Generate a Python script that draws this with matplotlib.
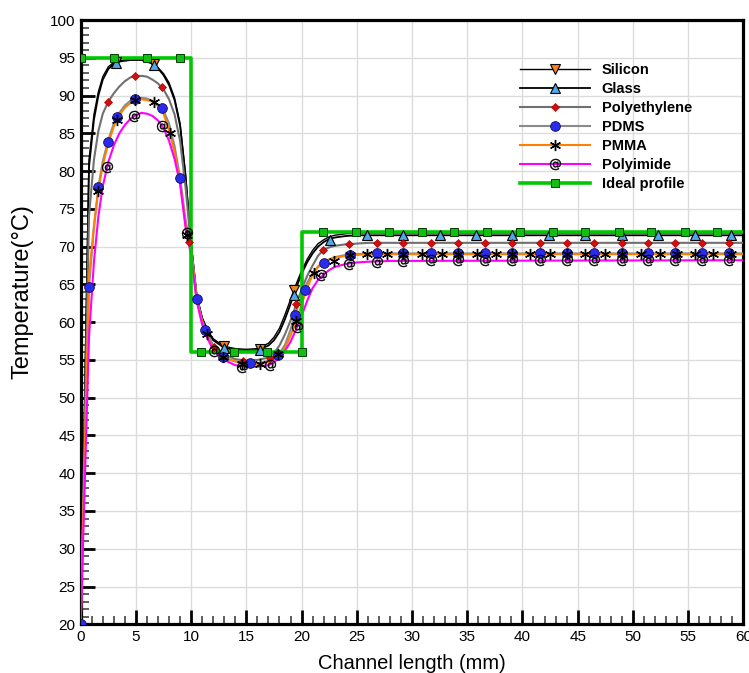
import matplotlib
matplotlib.use("Agg")
import matplotlib.pyplot as plt
from matplotlib.lines import Line2D

plt.rcParams['font.family'] = ['Liberation Sans', 'DejaVu Sans']

# Channel positions (mm) of the simulated temperature profiles
X = [0, 0.75, 1.2, 1.6, 2.0, 2.5, 3.0, 3.5, 4.0, 4.5, 5.0, 5.5, 6.0, 6.5, 7.0,
     7.5, 8.0, 8.5, 9.0, 9.5, 10.0, 10.5, 11.0, 11.5, 12.0, 13.0, 14.0, 15.0,
     16.0, 17.0, 17.5, 18.0, 18.5, 19.0, 19.5, 20.0, 20.5, 21.0, 21.5, 22.0,
     22.5, 23.0, 24.0, 25.0, 26.0, 28.0, 60.0]

silicon = [20, 81.5, 87.5, 90.5, 92.5, 93.8, 94.4, 94.6, 94.7, 94.8, 94.8, 94.8,
           94.6, 94.3, 93.7, 92.9, 91.7, 89.7, 86.3, 79.5, 70.5, 63.6, 60.6, 58.9,
           57.8, 56.8, 56.5, 56.4, 56.5, 57.2, 58.0, 59.2, 61.0, 63.0, 65.0, 66.8,
           68.3, 69.5, 70.4, 70.9, 71.3, 71.5, 71.7, 71.8, 71.8, 71.8, 71.8]
glass = [20, 80.5, 86.8, 90.0, 92.1, 93.5, 94.2, 94.5, 94.6, 94.7, 94.7, 94.7,
         94.5, 94.2, 93.6, 92.7, 91.4, 89.4, 86.0, 79.2, 70.3, 63.5, 60.5, 58.8,
         57.6, 56.6, 56.3, 56.2, 56.3, 56.9, 57.6, 58.7, 60.4, 62.4, 64.5, 66.4,
         67.9, 69.1, 70.0, 70.6, 71.0, 71.2, 71.4, 71.5, 71.5, 71.5, 71.5]
polyethylene = [20, 74.0, 81.5, 85.3, 87.6, 89.2, 90.3, 91.2, 91.9, 92.4, 92.6,
                92.6, 92.5, 92.1, 91.6, 90.8, 89.5, 87.5, 84.0, 77.8, 70.0, 63.3,
                60.3, 58.3, 56.9, 55.7, 55.1, 54.9, 55.0, 55.3, 55.9, 56.9, 58.4,
                60.2, 62.3, 64.3, 66.1, 67.5, 68.8, 69.6, 69.9, 70.1, 70.3, 70.4,
                70.5, 70.5, 70.5]
pdms = [20, 64.7, 72.5, 77.9, 81.3, 84.1, 86.3, 87.7, 88.7, 89.3, 89.6, 89.7,
        89.6, 89.3, 88.8, 88.0, 86.3, 83.3, 79.1, 73.5, 69.5, 63.1, 60.0, 58.1,
        56.6, 55.3, 54.8, 54.5, 54.5, 54.9, 55.3, 55.9, 57.0, 59.0, 61.4, 63.3,
        65.2, 66.5, 67.3, 67.8, 68.3, 68.6, 68.9, 69.0, 69.1, 69.1, 69.1]
pmma = [20, 66.0, 72.8, 77.5, 80.8, 83.7, 85.9, 87.4, 88.4, 89.0, 89.4, 89.5,
        89.4, 89.2, 88.6, 87.6, 85.4, 82.5, 78.5, 72.8, 69.5, 63.0, 59.9, 58.0,
        56.5, 55.3, 54.8, 54.5, 54.4, 54.7, 55.1, 55.6, 56.6, 58.2, 60.1, 62.3,
        64.5, 66.3, 67.4, 68.0, 68.3, 68.5, 68.8, 68.9, 69.0, 69.0, 69.0]
polyimide = [20, 58.0, 68.0, 74.0, 78.0, 81.2, 83.4, 85.0, 86.1, 86.9, 87.4,
             87.7, 87.6, 87.3, 86.7, 85.7, 84.0, 81.6, 78.3, 72.5, 68.8, 62.8,
             59.7, 57.8, 56.3, 55.0, 54.3, 54.1, 54.1, 54.3, 54.7, 55.3, 56.2,
             57.4, 59.0, 60.8, 62.8, 64.5, 65.6, 66.3, 66.9, 67.3, 67.7, 67.9,
             68.0, 68.1, 68.2]

# Ideal (target) three-zone profile
ideal_x = [0, 10, 10, 20, 20, 60]
ideal_t = [95, 95, 56, 56, 72, 72]

# Symbol positions along each profile
silicon_mx = [3.2, 6.6, 13.0, 16.2, 19.3]
silicon_my = [94.4, 94.2, 56.8, 56.5, 64.2]

glass_mx = [3.2, 6.6, 13.0, 16.2, 19.3, 22.6, 25.9, 29.2, 32.5, 35.8, 39.1, 42.4,
            45.7, 49.0, 52.3, 55.6, 58.9]
glass_my = [94.3, 94.1, 56.6, 56.3, 63.6, 70.9, 71.5, 71.5, 71.5, 71.5, 71.5,
            71.5, 71.5, 71.5, 71.5, 71.5, 71.5]

pe_mx = [2.46, 4.95, 7.4, 9.85, 12.1, 14.7, 17.1, 19.5, 21.9, 24.3, 26.8, 29.2,
         31.7, 34.2, 36.6, 39.1, 41.6, 44.0, 46.5, 49.0, 51.4, 53.8, 56.3, 58.7]
pe_my = [89.1, 92.6, 91.1, 70.6, 56.7, 54.9, 55.2, 62.4, 69.6, 70.4, 70.5, 70.5,
         70.5, 70.5, 70.5, 70.5, 70.5, 70.5, 70.5, 70.5, 70.5, 70.5, 70.5, 70.5]

pdms_mx = [0, 0.75, 1.6, 2.45, 3.3, 4.95, 7.4, 9.0, 10.5, 11.3, 12.9, 15.3, 17.9,
           19.4, 20.3, 22.0, 24.4, 26.8, 29.2, 31.7, 34.2, 36.6, 39.1, 41.6, 44.0,
           46.5, 49.0, 51.4, 53.8, 56.3, 58.7]
pdms_my = [20, 64.7, 77.9, 83.9, 87.2, 89.6, 88.3, 79.1, 63.1, 59.0, 55.4, 54.6,
           55.7, 61.0, 64.3, 67.8, 68.9, 69.1, 69.1, 69.1, 69.1, 69.1, 69.1, 69.1,
           69.1, 69.1, 69.1, 69.1, 69.1, 69.1, 69.1]

pmma_mx = [1.6, 3.3, 4.9, 6.6, 8.1, 9.6, 11.4, 12.9, 14.6, 16.2, 17.9, 19.5, 21.1,
           22.9, 24.4, 25.9, 27.7, 29.2, 30.9, 32.7, 34.2, 35.9, 37.6, 39.1, 40.7,
           42.5, 44.0, 45.7, 47.5, 49.0, 50.7, 52.5, 54.0, 55.6, 57.3, 58.9]
pmma_my = [77.4, 86.7, 89.4, 89.2, 85.0, 71.6, 58.4, 55.4, 54.5, 54.4, 55.8, 60.1,
           66.5, 68.1, 68.9, 69.0, 69.0, 69.0, 69.0, 69.0, 69.0, 69.0, 69.0, 69.0,
           69.0, 69.0, 69.0, 69.0, 69.0, 69.0, 69.0, 69.0, 69.0, 69.0, 69.0, 69.0]

pi_mx = [2.35, 4.86, 7.33, 9.6, 12.1, 14.6, 17.1, 19.6, 21.8, 24.3, 26.8, 29.2,
         31.7, 34.2, 36.6, 39.1, 41.6, 44.0, 46.5, 49.0, 51.4, 53.8, 56.3, 58.7]
pi_my = [80.6, 87.3, 86.0, 71.8, 56.2, 54.1, 54.3, 59.3, 66.3, 67.7, 68.0, 68.1,
         68.2, 68.2, 68.2, 68.2, 68.2, 68.2, 68.2, 68.2, 68.2, 68.2, 68.2, 68.2]

ideal_mx = [0, 3, 6, 9, 10.9, 13.9, 16.9, 20.0, 21.9, 24.9, 27.9, 30.9, 33.8, 36.8,
            39.8, 42.8, 45.7, 48.7, 51.6, 54.7, 57.6]
ideal_my = [95, 95, 95, 95, 56, 56, 56, 56, 72, 72, 72, 72, 72, 72, 72, 72, 72, 72,
            72, 72, 72]

labels = ['Silicon', 'Glass', 'Polyethylene', 'PDMS', 'PMMA', 'Polyimide',
          'Ideal profile']

asterisk = (6, 2, 0)

fig = plt.figure(figsize=(7.49, 6.73), dpi=100)
ax = fig.add_axes([80.7 / 749, 1 - 624.3 / 673, (743.3 - 80.7) / 749, (624.3 - 20) / 673])

series = [
    (X, silicon, silicon_mx, silicon_my,
     dict(color='black', lw=1.0),
     dict(marker='v', ms=6.5, mfc='#F5841F', mec='black', mew=0.8)),
    (X, glass, glass_mx, glass_my,
     dict(color='black', lw=1.3),
     dict(marker='^', ms=6.5, mfc='#4FA6E8', mec='black', mew=0.8)),
    (X, polyethylene, pe_mx, pe_my,
     dict(color='#707070', lw=1.5),
     dict(marker='D', ms=4.5, mfc='#D01010', mec='#B00000', mew=0.5)),
    (X, pdms, pdms_mx, pdms_my,
     dict(color='#8a8a8a', lw=1.5),
     dict(marker='o', ms=7, mfc='#2B2BF0', mec='#101050', mew=0.6)),
    (X, pmma, pmma_mx, pmma_my,
     dict(color='#FF8000', lw=1.5),
     dict(marker=asterisk, ms=8, mfc='black', mec='black', mew=1.0)),
    (X, polyimide, pi_mx, pi_my,
     dict(color='#FF00FF', lw=1.5),
     dict(marker='$@$', ms=8, mfc='black', mec='black', mew=0.3)),
    (ideal_x, ideal_t, ideal_mx, ideal_my,
     dict(color='#00C800', lw=2.6),
     dict(marker='s', ms=5.5, mfc='#10C010', mec='#004000', mew=0.7)),
]

handles = []
for (lx, ly, mx, my, lstyle, mstyle), lab in zip(series, labels):
    ax.plot(lx, ly, **lstyle, zorder=3)
    ax.plot(mx, my, ls='none', **mstyle, zorder=4)
    handles.append(Line2D([], [], **lstyle, **mstyle))

ax.set_xlim(0, 60)
ax.set_ylim(20, 100)
ax.set_xticks(range(0, 61, 5))
ax.set_yticks(range(20, 101, 5))
ax.set_xticks(range(0, 61, 1), minor=True)
ax.set_yticks(range(20, 101, 1), minor=True)
ax.grid(True, which='major', color='#dcdcdc', lw=1.0, zorder=0)
ax.set_axisbelow(True)

ax.tick_params(which='major', direction='in', length=10, width=2.0, labelsize=11,
               top=False, right=False, pad=4)
ax.tick_params(which='minor', direction='in', length=5.5, width=1.2, color='#444444',
               top=False, right=False)
for s in ax.spines.values():
    s.set_linewidth(2.3)

ax.set_xlabel('Channel length (mm)', fontsize=14.5, labelpad=7)
ax.set_ylabel('Temperature(°C)', fontsize=17)
ax.yaxis.set_label_coords(-0.071, 0.55)

leg = fig.legend(handles, labels, loc='upper left', bbox_to_anchor=(520 / 749, 1 - 63 / 673),
                 frameon=False, numpoints=1, handlelength=4.8, handletextpad=0.8,
                 labelspacing=0.34, borderpad=0, borderaxespad=0,
                 prop={'weight': 'bold', 'size': 10.5})

fig.savefig('out.png', dpi=100)
